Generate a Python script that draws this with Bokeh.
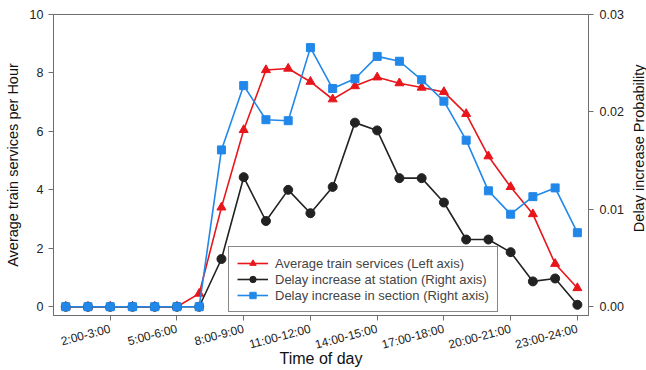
from bokeh.plotting import figure
from bokeh.models import Range1d, LinearAxis, FixedTicker, Legend, LegendItem
from bokeh.layouts import row
from bokeh.core.properties import value
from bokeh.embed import file_html
from bokeh.resources import INLINE
import math

hours = ["0:00-1:00", "1:00-2:00", "2:00-3:00", "3:00-4:00", "4:00-5:00", "5:00-6:00",
         "6:00-7:00", "7:00-8:00", "8:00-9:00", "9:00-10:00", "10:00-11:00", "11:00-12:00",
         "12:00-13:00", "13:00-14:00", "14:00-15:00", "15:00-16:00", "16:00-17:00", "17:00-18:00",
         "18:00-19:00", "19:00-20:00", "20:00-21:00", "21:00-22:00", "22:00-23:00", "23:00-24:00"]
tick_idx = [2, 5, 8, 11, 14, 17, 20, 23]

train_services = [0.0, 0.0, 0.0, 0.0, 0.0, 0.0, 0.45, 3.4, 6.05, 8.1, 8.15, 7.7,
                  7.1, 7.55, 7.85, 7.65, 7.5, 7.35, 6.6, 5.15, 4.1, 3.17, 1.47, 0.64]
delay_station = [0.0, 0.0, 0.0, 0.0, 0.0, 0.0, 0.0, 0.0049, 0.0133, 0.0088, 0.0120, 0.0096,
                 0.0123, 0.0189, 0.0181, 0.0132, 0.0132, 0.0107, 0.0069, 0.0069, 0.0056, 0.0026, 0.0029, 0.0002]
delay_section = [0.0, 0.0, 0.0, 0.0, 0.0, 0.0, 0.0, 0.0161, 0.0227, 0.0192, 0.0191, 0.0266,
                 0.0224, 0.0234, 0.0257, 0.0252, 0.0233, 0.0211, 0.0171, 0.0119, 0.0095, 0.0113, 0.0122, 0.0076]
right_axis_title = "Delay increase Probability"

x = list(range(len(hours)))

FONT = "Liberation Sans"
RED = "#e8161b"
BLACK = "#222222"
BLUE = "#2188ea"
GRAY = "#6e6e6e"

p_main = figure(frame_width=535, frame_height=301, output_backend="svg", toolbar_location=None,
                x_range=Range1d(-0.55, 23.5), y_range=Range1d(-0.3, 10),
                min_border_left=53, min_border_right=38, min_border_top=14, min_border_bottom=55)
p_main.extra_y_ranges = {"right": Range1d(-0.0009, 0.03)}
p_main.xgrid.visible = False
p_main.ygrid.visible = False
p_main.outline_line_color = GRAY
p_main.outline_line_width = 1

def style_axis(ax):
    ax.axis_line_color = GRAY
    ax.major_tick_line_color = GRAY
    ax.minor_tick_line_color = None
    ax.major_tick_out = 5
    ax.major_tick_in = 0
    ax.major_label_text_font = FONT
    ax.major_label_text_font_size = "12.5px"
    ax.major_label_text_color = "#222222"
    ax.axis_label_text_font = FONT
    ax.axis_label_text_font_size = "14.5px"
    ax.axis_label_text_font_style = "normal"
    ax.axis_label_text_color = "#111111"

xa = p_main.xaxis[0]
style_axis(xa)
xa.ticker = FixedTicker(ticks=tick_idx)
xa.major_label_overrides = {i: hours[i] for i in tick_idx}
xa.major_label_orientation = 0.26
xa.major_label_text_font_size = "12px"
xa.major_label_standoff = 8
xa.axis_label = "Time of day"
xa.axis_label_text_font_size = "16px"
xa.axis_label_standoff = -11

ya = p_main.yaxis[0]
style_axis(ya)
ya.ticker = FixedTicker(ticks=[0, 2, 4, 6, 8, 10])
ya.axis_label = "Average train services per Hour"
ya.axis_label_standoff = 6

ra = LinearAxis(y_range_name="right", ticker=FixedTicker(ticks=[0.0, 0.01, 0.02, 0.03]))
style_axis(ra)
ra.major_label_overrides = {0.0: "0.00", 0.01: "0.01", 0.02: "0.02", 0.03: "0.03"}
ra.major_label_standoff = 6
p_main.add_layout(ra, "right")

r1l = p_main.line(x, train_services, line_color=RED, line_width=1.6)
r1m = p_main.scatter(x, train_services, marker="triangle", size=9, fill_color=RED, line_color=RED)
r2l = p_main.line(x, delay_station, line_color=BLACK, line_width=1.6, y_range_name="right")
r2m = p_main.scatter(x, delay_station, marker="circle", size=9, fill_color=BLACK, line_color=BLACK, y_range_name="right")
r3l = p_main.line(x, delay_section, line_color=BLUE, line_width=1.6, y_range_name="right")
r3m = p_main.scatter(x, delay_section, marker="square", size=8, fill_color=BLUE, line_color=BLUE, y_range_name="right")

legend = Legend(items=[
    LegendItem(label="Average train services (Left axis)", renderers=[r1l, r1m]),
    LegendItem(label="Delay increase at station (Right axis)", renderers=[r2l, r2m]),
    LegendItem(label="Delay increase in section (Right axis)", renderers=[r3l, r3m]),
], location=(175, 3))
legend.label_text_font = FONT
legend.label_text_font_size = "13px"
legend.label_height = 16
legend.glyph_height = 16
legend.glyph_width = 31
legend.label_standoff = 7
legend.spacing = 0
legend.padding = 8
legend.margin = 0
legend.border_line_color = "#111111"
legend.border_line_width = 1
legend.background_fill_alpha = 1
p_main.add_layout(legend, "center")

# narrow strip carrying the right-axis title, reading bottom-to-top
p_side = figure(width=20, height=370, output_backend="svg", toolbar_location=None,
                x_range=Range1d(0, 20), y_range=Range1d(0, 370), min_border=0,
                x_axis_location=None, y_axis_location=None)
p_side.xgrid.visible = False
p_side.ygrid.visible = False
p_side.outline_line_color = None
p_side.text(x=[12], y=[205.5], text=[right_axis_title], angle=math.pi / 2,
            text_align="center", text_baseline="middle", text_font=value(FONT),
            text_font_size="14.5px", text_color="#111111")

p = row(p_main, p_side, spacing=0)

open("out.html", "w").write(file_html(p, INLINE))
